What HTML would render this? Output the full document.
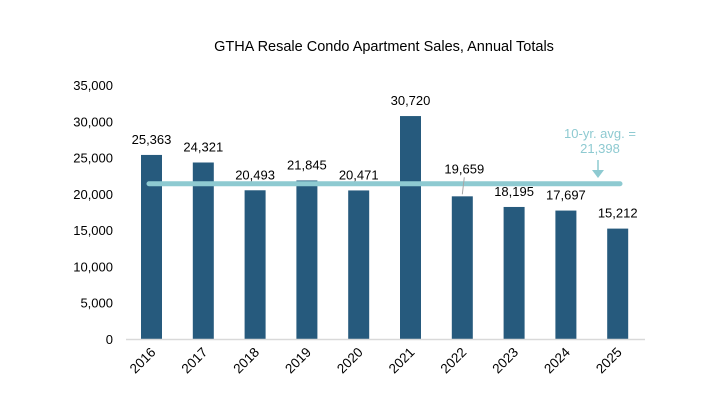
<!DOCTYPE html>
<html><head><meta charset="utf-8"><style>
body{margin:0;background:#fff;overflow:hidden;}
svg{display:block;}
svg text{font-family:"Liberation Sans",Arial,sans-serif;}
</style></head><body>
<svg id="chart" width="722" height="420" xmlns="http://www.w3.org/2000/svg">
<text x="384" y="51" font-size="14.5" text-anchor="middle" fill="#000">GTHA Resale Condo Apartment Sales, Annual Totals</text>
<g id="yaxis"></g><g id="bars"></g><g id="avg"></g><g id="xaxis"></g><g id="labels"></g>
</svg>
<script>
const years=["2016","2017","2018","2019","2020","2021","2022","2023","2024","2025"];
const sales=[25363,24321,20493,21845,20471,30720,19659,18195,17697,15212];
const yTicks=[0,5000,10000,15000,20000,25000,30000,35000];
const avgValue=21398;
const NS="http://www.w3.org/2000/svg";
const svg=document.getElementById('chart');
const y0=339,k=254/35000;
const y=v=>y0-v*k;
const x=i=>151.5+i*51.8;
function mk(t,a,p){const e=document.createElementNS(NS,t);for(const n in a)e.setAttribute(n,a[n]);(p||svg).appendChild(e);return e;}
const fmt=v=>v.toLocaleString('en-US');
const gA=document.getElementById('avg');
yTicks.forEach(t=>{const e=mk('text',{x:113,y:y(t)+5,'font-size':13,'text-anchor':'end',fill:'#000'},document.getElementById('yaxis'));e.textContent=fmt(t);

});
const ax=mk('line',{x1:126,y1:y0+0.5,x2:645,y2:y0+0.5,stroke:'#d9d9d9','stroke-width':1.5},gA);


const av=mk('line',{x1:149,y1:y(avgValue),x2:620,y2:y(avgValue),stroke:'#8ecad1','stroke-width':5,'stroke-linecap':'round'},gA);


sales.forEach((v,i)=>{
const b=mk('rect',{x:x(i)-10.5,y:y(v),width:21,height:y0-y(v),fill:'#265a7d'},document.getElementById('bars'));


let ly=y(v)-11;
if(i===6)ly=y(v)-23;
const l=mk('text',{x:x(i)+(i===6?2:0),y:ly,'font-size':13,'text-anchor':'middle',fill:'#000'},document.getElementById('labels'));
l.textContent=fmt(v);


const xl=mk('text',{x:0,y:0,'font-size':13.5,'text-anchor':'end',fill:'#000',transform:`translate(${x(i)+5},${y0+14}) rotate(-45)`},document.getElementById('xaxis'));
xl.textContent=years[i];


});
const ld=mk('line',{x1:x(6)+2,y1:y(sales[6])-19,x2:x(6),y2:y(sales[6])-2,stroke:'#a6a6a6','stroke-width':1});


const ar=mk('line',{x1:598,y1:160,x2:598,y2:172,stroke:'#8ecad1','stroke-width':1.5});


const ah=mk('polygon',{points:'592,170 604,170 598,178',fill:'#8ecad1'});


const t1=mk('text',{x:600,y:138,'font-size':13,'text-anchor':'middle',fill:'#8ecad1'});t1.textContent='10-yr. avg. =';


const t2=mk('text',{x:600,y:153,'font-size':13,'text-anchor':'middle',fill:'#8ecad1'});t2.textContent=fmt(avgValue);


</script>
</body></html>
